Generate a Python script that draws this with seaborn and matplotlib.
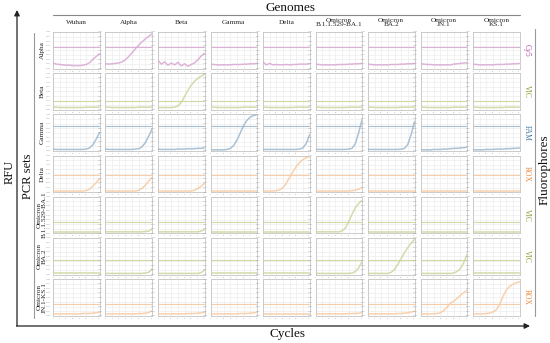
import matplotlib
matplotlib.use("Agg")
import matplotlib.pyplot as plt
import seaborn as sns
from matplotlib.ticker import MultipleLocator

sns.set_style("whitegrid")
plt.rcParams["font.family"] = ["Liberation Serif", "DejaVu Serif"]

# ---- data (RFU normalised to the panel's y-range) ----
cycles = [0, 3, 6, 9, 12, 15, 18, 21, 24, 27, 30, 33, 36, 39, 42]

genomes = ["Wuhan", "Alpha", "Beta", "Gamma", "Delta", "Omicron\nB.1.1.529-BA.1",
           "Omicron\nBA.2", "Omicron\nJN.1", "Omicron\nKS.1"]
pcr_sets = ["Alpha", "Beta", "Gamma", "Delta", "Omicron\nB.1.1.529-BA.1",
            "Omicron\nBA.2", "Omicron\nJN.1-KS.1"]
fluorophores = ["Cy5", "VIC", "FAM", "ROX", "VIC", "VIC", "ROX"]
thresholds = [0.58, 0.24, 0.69, 0.46, 0.31, 0.40, 0.33]

cy5_flat = [0.12, 0.11, 0.10, 0.10, 0.10, 0.10, 0.10, 0.11, 0.11, 0.11, 0.12, 0.12, 0.13, 0.13, 0.14]
alpha_set = [
    [0.15, 0.12, 0.11, 0.10, 0.09, 0.09, 0.08, 0.08, 0.08, 0.09, 0.11, 0.16, 0.25, 0.33, 0.40],
    [0.13, 0.12, 0.13, 0.14, 0.15, 0.18, 0.24, 0.33, 0.43, 0.54, 0.64, 0.73, 0.81, 0.88, 0.95],
    [0.22, 0.12, 0.18, 0.09, 0.15, 0.10, 0.17, 0.07, 0.13, 0.06, 0.11, 0.15, 0.24, 0.34, 0.42],
    cy5_flat,
    [0.18, 0.10, 0.14, 0.10, 0.11, 0.10, 0.10, 0.11, 0.10, 0.11, 0.11, 0.12, 0.12, 0.12, 0.13],
    cy5_flat,
    cy5_flat,
    [0.13, 0.12, 0.11, 0.11, 0.10, 0.10, 0.10, 0.10, 0.10, 0.10, 0.12, 0.13, 0.14, 0.15, 0.16],
    cy5_flat,
]

vic_flat = [0.07, 0.07, 0.06, 0.06, 0.06, 0.06, 0.06, 0.06, 0.06, 0.06, 0.07, 0.07, 0.07, 0.07, 0.07]
beta_set = [
    vic_flat, vic_flat,
    [0.06, 0.06, 0.06, 0.06, 0.06, 0.07, 0.10, 0.20, 0.36, 0.53, 0.67, 0.78, 0.86, 0.92, 0.97],
    vic_flat, vic_flat, vic_flat, vic_flat, vic_flat, vic_flat,
]

fam_flat = [0.04, 0.04, 0.04, 0.04, 0.04, 0.04, 0.04, 0.04, 0.04, 0.04, 0.04, 0.04, 0.05, 0.05, 0.05]
gamma_set = [
    [0.05, 0.04, 0.04, 0.04, 0.04, 0.04, 0.04, 0.04, 0.04, 0.04, 0.05, 0.08, 0.17, 0.32, 0.50],
    [0.05, 0.04, 0.04, 0.04, 0.04, 0.04, 0.04, 0.04, 0.04, 0.05, 0.06, 0.11, 0.23, 0.40, 0.60],
    [0.05, 0.04, 0.04, 0.04, 0.04, 0.04, 0.05, 0.05, 0.05, 0.06, 0.06, 0.06, 0.07, 0.07, 0.08],
    [0.03, 0.03, 0.03, 0.03, 0.03, 0.04, 0.07, 0.15, 0.30, 0.50, 0.70, 0.84, 0.93, 0.97, 0.99],
    [0.04, 0.04, 0.04, 0.04, 0.04, 0.04, 0.04, 0.04, 0.04, 0.04, 0.04, 0.05, 0.08, 0.20, 0.44],
    [0.04, 0.04, 0.04, 0.04, 0.04, 0.04, 0.04, 0.04, 0.04, 0.04, 0.05, 0.07, 0.20, 0.50, 0.85],
    [0.04, 0.04, 0.04, 0.04, 0.04, 0.04, 0.04, 0.04, 0.04, 0.04, 0.05, 0.07, 0.18, 0.45, 0.80],
    [0.03, 0.03, 0.03, 0.03, 0.04, 0.04, 0.04, 0.05, 0.05, 0.06, 0.07, 0.07, 0.08, 0.09, 0.10],
    [0.03, 0.03, 0.03, 0.03, 0.04, 0.04, 0.04, 0.05, 0.05, 0.05, 0.06, 0.06, 0.07, 0.07, 0.08],
]

rox_flat = [0.03, 0.03, 0.03, 0.03, 0.03, 0.03, 0.03, 0.03, 0.03, 0.03, 0.03, 0.03, 0.03, 0.03, 0.03]
delta_set = [
    [0.03, 0.03, 0.03, 0.03, 0.03, 0.03, 0.03, 0.03, 0.03, 0.03, 0.04, 0.08, 0.16, 0.26, 0.36],
    [0.03, 0.03, 0.03, 0.03, 0.03, 0.03, 0.03, 0.03, 0.03, 0.03, 0.05, 0.10, 0.19, 0.30, 0.40],
    [0.03, 0.03, 0.03, 0.03, 0.03, 0.03, 0.03, 0.03, 0.03, 0.03, 0.03, 0.05, 0.10, 0.16, 0.24],
    rox_flat,
    [0.03, 0.03, 0.03, 0.03, 0.04, 0.06, 0.12, 0.24, 0.40, 0.56, 0.70, 0.81, 0.89, 0.94, 0.97],
    [0.03, 0.03, 0.03, 0.03, 0.03, 0.03, 0.03, 0.03, 0.03, 0.03, 0.03, 0.04, 0.05, 0.08, 0.13],
    rox_flat, rox_flat, rox_flat,
]

ba1_flat = [0.04, 0.04, 0.04, 0.04, 0.04, 0.04, 0.04, 0.04, 0.04, 0.04, 0.04, 0.04, 0.04, 0.04, 0.04]
ba1_set = [
    ba1_flat,
    [0.04, 0.04, 0.04, 0.04, 0.04, 0.04, 0.04, 0.04, 0.04, 0.04, 0.04, 0.04, 0.05, 0.06, 0.11],
    [0.04, 0.04, 0.04, 0.04, 0.04, 0.04, 0.04, 0.04, 0.04, 0.04, 0.04, 0.04, 0.04, 0.06, 0.10],
    ba1_flat, ba1_flat,
    [0.04, 0.04, 0.04, 0.04, 0.04, 0.04, 0.04, 0.04, 0.06, 0.15, 0.32, 0.52, 0.70, 0.82, 0.90],
    ba1_flat, ba1_flat, ba1_flat,
]

ba2_flat = [0.03, 0.03, 0.03, 0.03, 0.03, 0.03, 0.03, 0.03, 0.03, 0.03, 0.03, 0.03, 0.03, 0.03, 0.03]
ba2_set = [
    ba2_flat,
    [0.03, 0.03, 0.03, 0.03, 0.03, 0.03, 0.03, 0.03, 0.03, 0.03, 0.03, 0.03, 0.04, 0.06, 0.15],
    [0.03, 0.03, 0.03, 0.03, 0.03, 0.03, 0.03, 0.03, 0.03, 0.03, 0.03, 0.03, 0.03, 0.05, 0.12],
    ba2_flat, ba2_flat,
    [0.03, 0.03, 0.03, 0.03, 0.03, 0.03, 0.03, 0.03, 0.03, 0.03, 0.03, 0.04, 0.08, 0.18, 0.35],
    [0.03, 0.03, 0.03, 0.03, 0.03, 0.03, 0.03, 0.06, 0.14, 0.28, 0.44, 0.60, 0.74, 0.86, 0.96],
    [0.03, 0.03, 0.03, 0.03, 0.03, 0.03, 0.03, 0.03, 0.03, 0.03, 0.04, 0.08, 0.16, 0.32, 0.55],
    ba2_flat,
]

jn_flat = [0.05, 0.05, 0.05, 0.05, 0.05, 0.05, 0.05, 0.05, 0.05, 0.05, 0.05, 0.05, 0.05, 0.05, 0.05]
jn_ks_set = [
    [0.05, 0.05, 0.05, 0.05, 0.05, 0.05, 0.05, 0.05, 0.05, 0.06, 0.06, 0.06, 0.07, 0.08, 0.09],
    [0.05, 0.05, 0.05, 0.05, 0.05, 0.05, 0.05, 0.05, 0.05, 0.05, 0.06, 0.06, 0.07, 0.09, 0.13],
    [0.05, 0.05, 0.05, 0.05, 0.05, 0.05, 0.05, 0.05, 0.05, 0.06, 0.06, 0.06, 0.07, 0.08, 0.09],
    [0.05, 0.05, 0.05, 0.05, 0.05, 0.05, 0.05, 0.05, 0.05, 0.06, 0.06, 0.06, 0.07, 0.08, 0.09],
    jn_flat,
    [0.05, 0.05, 0.05, 0.05, 0.05, 0.05, 0.05, 0.05, 0.05, 0.05, 0.06, 0.06, 0.06, 0.07, 0.08],
    [0.05, 0.05, 0.05, 0.05, 0.05, 0.05, 0.05, 0.05, 0.05, 0.06, 0.06, 0.07, 0.08, 0.10, 0.12],
    [0.05, 0.05, 0.05, 0.05, 0.05, 0.06, 0.08, 0.14, 0.24, 0.34, 0.40, 0.47, 0.56, 0.63, 0.70],
    [0.05, 0.05, 0.05, 0.05, 0.06, 0.07, 0.10, 0.16, 0.30, 0.52, 0.70, 0.80, 0.86, 0.90, 0.93],
]

curves = [alpha_set, beta_set, gamma_set, delta_set, ba1_set, ba2_set, jn_ks_set]

line_colors = {"Cy5": "#d9a8d3", "VIC": "#cdd59c", "FAM": "#9ab8cf", "ROX": "#f7c9a0"}
text_colors = {"Cy5": "#b04aa4", "VIC": "#8d9a2e", "FAM": "#3d78a2", "ROX": "#f0883a"}

W, H = 550, 343
fig = plt.figure(figsize=(W / 100, H / 100), dpi=100)

# overlay in pixel coordinates for the frame, arrows and titles
ov = fig.add_axes([0, 0, 1, 1], zorder=-1)
ov.set_xlim(0, W)
ov.set_ylim(H, 0)
ov.axis("off")

x0, col_pitch, pw = 53, 52.5, 46.5
y0, row_pitch, ph = 32, 41.2, 36.5

for r, row in enumerate(curves):
    fl = fluorophores[r]
    for c, vals in enumerate(row):
        left = x0 + c * col_pitch
        top = y0 + r * row_pitch
        ax = fig.add_axes([left / W, 1 - (top + ph) / H, pw / W, ph / H])
        ax.axhline(thresholds[r], color=line_colors[fl], lw=0.8, alpha=0.9, zorder=2)
        sns.lineplot(x=cycles, y=vals, ax=ax, color=line_colors[fl], lw=1.1,
                     alpha=0.85, zorder=3)
        ax.set_xlim(0, 42)
        ax.set_ylim(0, 1)
        ax.xaxis.set_major_locator(MultipleLocator(6))
        ax.yaxis.set_major_locator(MultipleLocator(0.125))
        ax.grid(True, color="#e8e8e8", lw=0.4)
        ax.tick_params(labelsize=1.6, length=1, width=0.3, pad=0.5,
                       colors="#999999", labelcolor="#999999")
        ax.set_xlabel("")
        ax.set_ylabel("")
        for s in ax.spines.values():
            s.set_color("#c4c4c4")
            s.set_linewidth(0.6)

# column labels
for c, name in enumerate(genomes):
    ov.text(x0 + c * col_pitch + pw / 2, 22.5, name, ha="center", va="center",
            fontsize=5.2, linespacing=1.0, color="#222222")

# row labels and fluorophores
for r, name in enumerate(pcr_sets):
    yc = y0 + r * row_pitch + ph / 2
    ov.text(42, yc, name, ha="center", va="center", rotation=90,
            fontsize=5.2, linespacing=1.0, color="#222222")
    fl = fluorophores[r]
    ov.text(527, yc, fl, ha="center", va="center", rotation=270,
            fontsize=5.5, color=text_colors[fl])

# titles
ov.text(290, 8, "Genomes", ha="center", va="center", fontsize=9.5, color="#111111")
ov.plot([53, 520], [15, 15], color="#888888", lw=0.8)
ov.text(288, 334, "Cycles", ha="center", va="center", fontsize=9.5, color="#111111")
ov.text(10, 172, "RFU", ha="center", va="center", rotation=90, fontsize=9, color="#111111")
ov.text(28, 176, "PCR sets", ha="center", va="center", rotation=90, fontsize=9, color="#111111")
ov.plot([34, 34], [33, 318], color="#999999", lw=0.8)
ov.plot([535, 535], [29, 316], color="#999999", lw=0.8)
ov.text(545, 170, "Fluorophores", ha="center", va="center", rotation=90,
        fontsize=9.5, color="#111111")

# axis arrows
ov.annotate("", xy=(17, 10), xytext=(17, 326),
            arrowprops=dict(arrowstyle="-|>", color="#222222", lw=0.9,
                            mutation_scale=8, shrinkA=0, shrinkB=0))
ov.annotate("", xy=(530, 326), xytext=(16.5, 326),
            arrowprops=dict(arrowstyle="-|>", color="#222222", lw=0.9,
                            mutation_scale=8, shrinkA=0, shrinkB=0))

fig.savefig("out.png", dpi=100)
